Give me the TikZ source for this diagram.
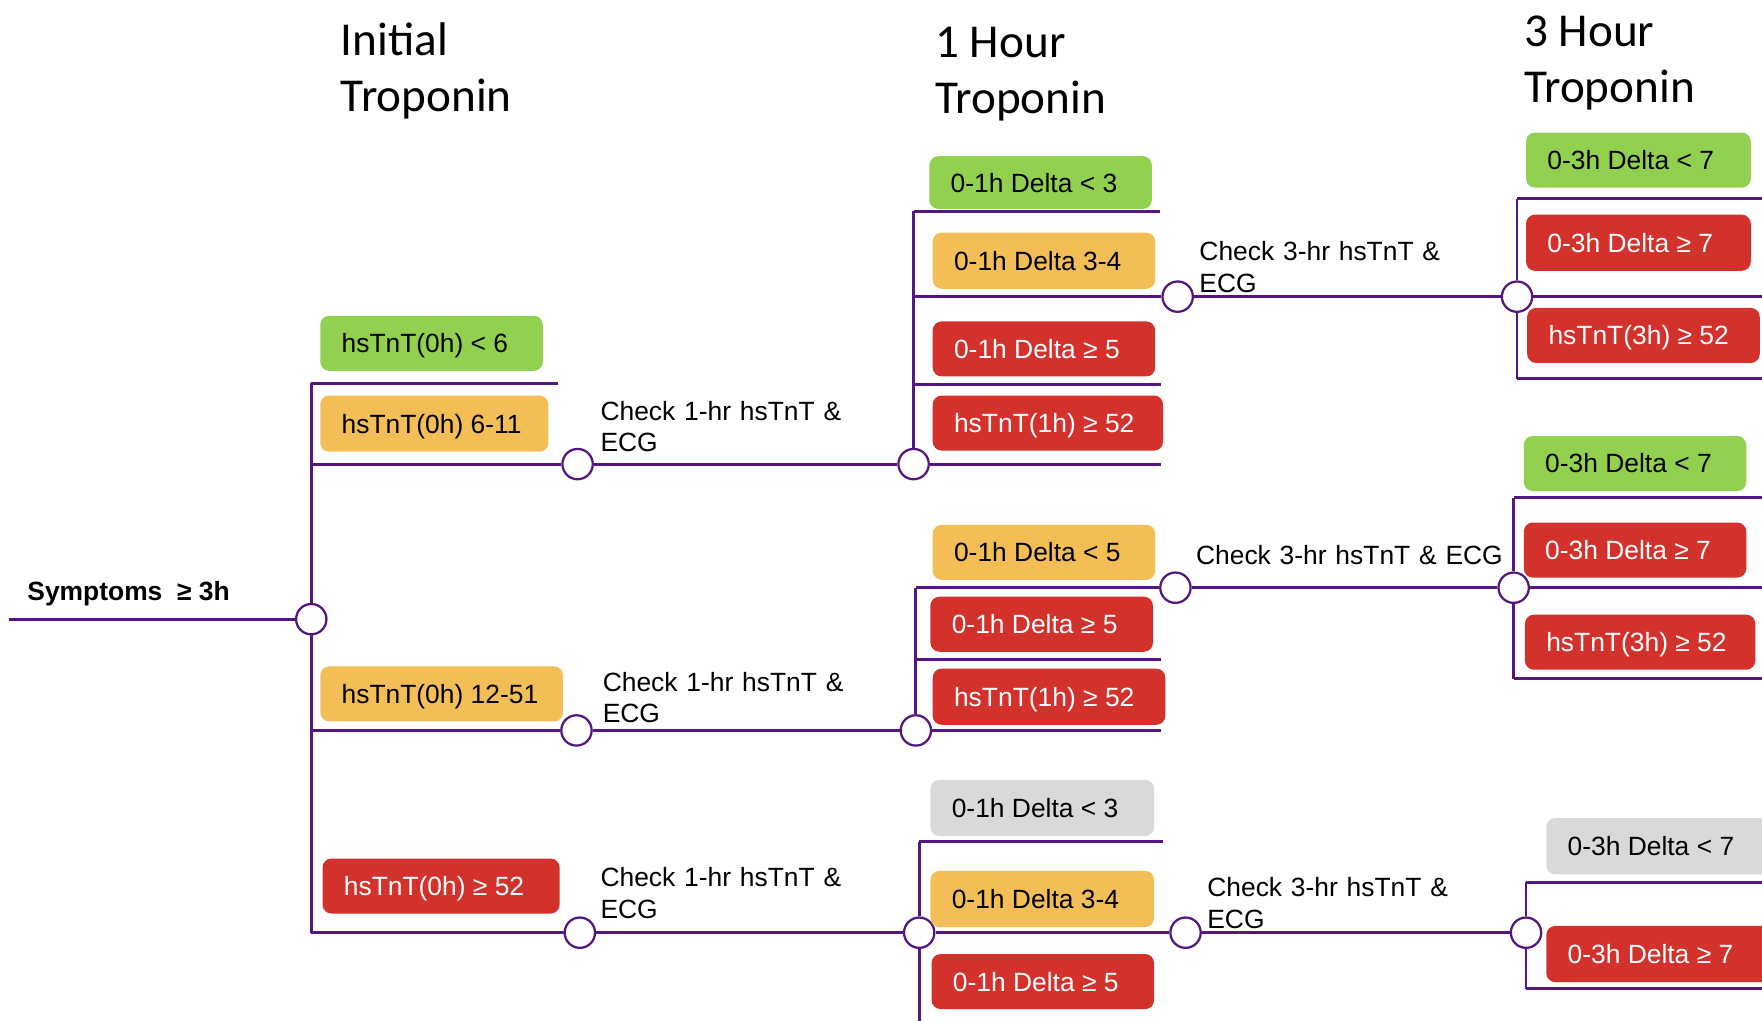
\documentclass[tikz,border=0pt]{standalone}
\usepackage{fontspec}
\setmainfont{Liberation Sans}
\newfontfamily\hdrfont{Carlito}
\definecolor{tpurple}{RGB}{84,22,128}
\definecolor{tgreen}{RGB}{146,208,80}
\definecolor{torange}{RGB}{243,190,86}
\definecolor{tred}{RGB}{211,50,44}
\definecolor{tgray}{RGB}{217,217,217}
\newcommand\tbx[8]{%
  \node[tbox, fill=#6, minimum width={(#4-#2)*0.5pt}, minimum height={(#5-#3)*0.5pt}] (#1) at ({(#2+#4)/2},{(#3+#5)/2}) {};
  \node[btext, text=#7] (#1t) at ([xshift=9.5pt,yshift=-4.2pt]#1.west) {#8};}
\begin{document}
\begin{tikzpicture}[x=0.5pt,y=-0.5pt,
  pline/.style={draw=tpurple, line width=1.25pt},
  knot/.style={circle, draw=tpurple, fill=white, line width=1pt, minimum size=13.5pt, inner sep=0pt},
  tbox/.style={rectangle, rounded corners=4pt, inner sep=0pt, draw=none},
  btext/.style={font=\fontsize{11.75}{14}\selectfont, inner sep=0pt, anchor=base west},
  lbl/.style={font=\fontsize{11.75}{14}\selectfont, inner sep=0pt, anchor=base west, align=left, text width=150pt},
  hdr/.style={font=\hdrfont\fontsize{21}{25}\selectfont, inner sep=0pt, anchor=base west}]
\useasboundingbox[fill=white] (0,0) rectangle (1568,908);

% headers
\node[hdr] (h1a) at (303,49) {Initial};
\node[hdr] (h1b) at (303,99) {Troponin};
\node[hdr] (h2a) at (832,51) {1 Hour};
\node[hdr] (h2b) at (832,101) {Troponin};
\node[hdr] (h3a) at (1356,41) {3 Hour};
\node[hdr] (h3b) at (1356,91) {Troponin};

% knots
\node[knot] (K0) at (277,551) {};
\node[knot] (K1) at (514,413) {};
\node[knot] (KA) at (813,413) {};
\node[knot] (K2) at (513,650) {};
\node[knot] (KB) at (815,650) {};
\node[knot] (K3) at (516,830) {};
\node[knot] (KC) at (818,830) {};
\node[knot] (KA3) at (1048,264) {};
\node[knot] (KA3b) at (1350,264) {};
\node[knot] (KB3) at (1046,523) {};
\node[knot] (KB3b) at (1347,523) {};
\node[knot] (KC3) at (1055,830) {};
\node[knot] (KC3b) at (1358,830) {};

% level 1
\node[btext, font=\fontsize{11.75}{14}\selectfont\bfseries] (sym) at (24,534) {Symptoms~~≥ 3h};
\coordinate (in) at (8,551);
\draw[pline] (in) -- (K0);
\coordinate (s0t) at (277,341);
\coordinate (s0b) at (277,830);
\coordinate (e01) at (497,341);
\coordinate (s02) at (277,413);
\coordinate (s03) at (277,650);
\draw[pline] (s0t) -- (K0);
\draw[pline] (K0) -- (s0b);
\draw[pline] (s0t) -- (e01);
\draw[pline] (s02) -- (K1);
\draw[pline] (s03) -- (K2);
\draw[pline] (s0b) -- (K3);
\draw[pline] (K1) -- (KA);
\draw[pline] (K2) -- (KB);
\draw[pline] (K3) -- (KC);

% group A
\coordinate (sAt) at (813,188);
\coordinate (eA1) at (1032,188);
\coordinate (sA2) at (813,264);
\coordinate (sA3) at (813,342);
\coordinate (eA3) at (1033,342);
\coordinate (eA4) at (1033,413);
\draw[pline] (sAt) -- (KA);
\draw[pline] (sAt) -- (eA1);
\draw[pline] (sA2) -- (KA3);
\draw[pline] (sA3) -- (eA3);
\draw[pline] (KA) -- (eA4);
\draw[pline] (KA3) -- (KA3b);
\coordinate (sA3t) at (1350,177);
\coordinate (sA3b) at (1350,337);
\coordinate (eA5) at (1568,177);
\coordinate (eA6) at (1568,264);
\coordinate (eA7) at (1568,337);
\draw[pline] (sA3t) -- (KA3b);
\draw[pline] (KA3b) -- (sA3b);
\draw[pline] (sA3t) -- (eA5);
\draw[pline] (KA3b) -- (eA6);
\draw[pline] (sA3b) -- (eA7);

% group B
\coordinate (sBt) at (815,523);
\coordinate (sB2) at (815,587);
\coordinate (eB2) at (1033,587);
\coordinate (eB3) at (1033,650);
\draw[pline] (sBt) -- (KB);
\draw[pline] (sBt) -- (KB3);
\draw[pline] (sB2) -- (eB2);
\draw[pline] (KB) -- (eB3);
\draw[pline] (KB3) -- (KB3b);
\coordinate (sB3t) at (1347,443);
\coordinate (sB3b) at (1347,604);
\coordinate (eB4) at (1568,443);
\coordinate (eB5) at (1568,523);
\coordinate (eB6) at (1568,604);
\draw[pline] (sB3t) -- (KB3b);
\draw[pline] (KB3b) -- (sB3b);
\draw[pline] (sB3t) -- (eB4);
\draw[pline] (KB3b) -- (eB5);
\draw[pline] (sB3b) -- (eB6);

% group C
\coordinate (sCt) at (818,749);
\coordinate (sCb) at (818,912);
\coordinate (eC1) at (1035,749);
\draw[pline] (sCt) -- (KC);
\draw[pline] (KC) -- (sCb);
\draw[pline] (sCt) -- (eC1);
\draw[pline] (KC) -- (KC3);
\draw[pline] (KC3) -- (KC3b);
\coordinate (sC3t) at (1358,785);
\coordinate (sC3b) at (1358,880);
\coordinate (eC4) at (1568,785);
\coordinate (eC5) at (1568,880);
\draw[pline] (sC3t) -- (KC3b);
\draw[pline] (KC3b) -- (sC3b);
\draw[pline] (sC3t) -- (eC4);
\draw[pline] (sC3b) -- (eC5);

% labels
\node[lbl] (L1a) at (534,374) {Check 1-hr hsTnT \&\\ECG};
\node[lbl] (L1b) at (536,615) {Check 1-hr hsTnT \&\\ECG};
\node[lbl] (L1c) at (534,789) {Check 1-hr hsTnT \&\\ECG};
\node[lbl] (LA) at (1067,232) {Check 3-hr hsTnT \&\\ECG};
\node[lbl] (LB) at (1064,502) {Check 3-hr hsTnT \& ECG};
\node[lbl] (LC) at (1074,798) {Check 3-hr hsTnT \&\\ECG};

% boxes
\tbx{b01}{285}{281}{483}{330}{tgreen}{black}{hsTnT(0h) < 6}
\tbx{b02}{285}{352}{488}{402}{torange}{black}{hsTnT(0h) 6-11}
\tbx{b03}{285}{593}{501}{642}{torange}{black}{hsTnT(0h) 12-51}
\tbx{b04}{287}{764}{498}{813}{tred}{white}{hsTnT(0h) ≥ 52}

\tbx{bA1}{827}{139}{1025}{186}{tgreen}{black}{0-1h Delta < 3}
\tbx{bA2}{830}{207}{1028}{257}{torange}{black}{0-1h Delta 3-4}
\tbx{bA3}{830}{286}{1028}{335}{tred}{white}{0-1h Delta ≥ 5}
\tbx{bA4}{830}{352}{1035}{401}{tred}{white}{hsTnT(1h) ≥ 52}

\tbx{bA5}{1358}{118}{1558}{167}{tgreen}{black}{0-3h Delta < 7}
\tbx{bA6}{1358}{191}{1558}{241}{tred}{white}{0-3h Delta ≥ 7}
\tbx{bA7}{1359}{274}{1566}{323}{tred}{white}{hsTnT(3h) ≥ 52}

\tbx{bB1}{830}{467}{1028}{516}{torange}{black}{0-1h Delta < 5}
\tbx{bB2}{828}{531}{1026}{580}{tred}{white}{0-1h Delta ≥ 5}
\tbx{bB3}{830}{595}{1037}{645}{tred}{white}{hsTnT(1h) ≥ 52}

\tbx{bB4}{1356}{388}{1554}{437}{tgreen}{black}{0-3h Delta < 7}
\tbx{bB5}{1356}{465}{1554}{514}{tred}{white}{0-3h Delta ≥ 7}
\tbx{bB6}{1357}{547}{1562}{596}{tred}{white}{hsTnT(3h) ≥ 52}

\tbx{bC1}{828}{694}{1027}{744}{tgray}{black}{0-1h Delta < 3}
\tbx{bC2}{828}{775}{1027}{825}{torange}{black}{0-1h Delta 3-4}
\tbx{bC3}{829}{849}{1027}{898}{tred}{white}{0-1h Delta ≥ 5}

\tbx{bC4}{1376}{728}{1590}{778}{tgray}{black}{0-3h Delta < 7}
\tbx{bC5}{1376}{824}{1590}{874}{tred}{white}{0-3h Delta ≥ 7}
\end{tikzpicture}
\end{document}
